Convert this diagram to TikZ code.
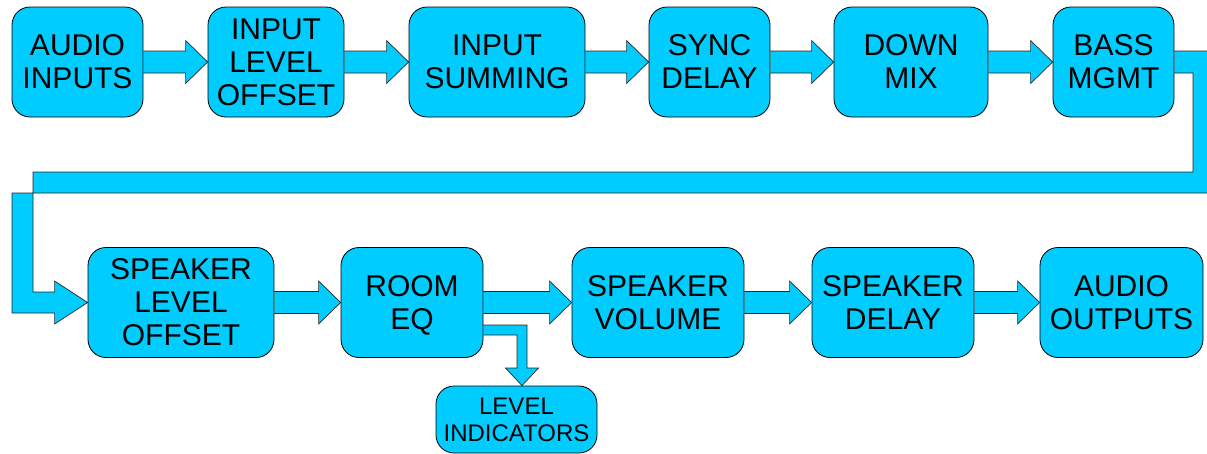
\documentclass[tikz,border=0pt]{standalone}
\usepackage{fontspec}
\setmainfont{Liberation Sans}
\usetikzlibrary{calc,backgrounds}
\definecolor{blockcyan}{HTML}{00CCFF}
% fat block arrow from the east side of #1 to the west side of #2
\newcommand{\fatarrow}[2]{%
  \draw[fat] ($(#1.east)+(0,-11)$) -- ($(#2.west)+(-22,-11)$) -- ($(#2.west)+(-22,-21.5)$)
    -- (#2.west) -- ($(#2.west)+(-22,21.5)$) -- ($(#2.west)+(-22,11)$) -- ($(#1.east)+(0,11)$);}

\begin{document}
\begin{tikzpicture}[x=1pt,y=-1pt,line cap=butt,line join=miter,
    block/.style={draw=black,line width=0.8pt,fill=blockcyan,rounded corners=18pt,
      align=center,inner sep=0pt,text depth=0pt,font={\fontsize{30}{33}\selectfont}},
    fat/.style={draw=black!85,line width=0.7pt,fill=blockcyan}]
  \useasboundingbox (0,0) rectangle (1207,453);
  % top row
  \node[block,minimum width=131pt,minimum height=110pt] (audioin) at (77.5,62) {AUDIO\\INPUTS};
  \node[block,minimum width=136pt,minimum height=110pt] (inlevel) at (276,62) {INPUT\\LEVEL\\OFFSET};
  \node[block,minimum width=176pt,minimum height=110pt] (insum) at (497,62) {INPUT\\SUMMING};
  \node[block,minimum width=121pt,minimum height=110pt] (sync) at (709.5,62) {SYNC\\DELAY};
  \node[block,minimum width=154pt,minimum height=110pt] (downmix) at (911,62) {DOWN\\MIX};
  \node[block,minimum width=121pt,minimum height=110pt] (bass) at (1113.5,62) {BASS\\MGMT};
  % bottom row
  \node[block,minimum width=186pt,minimum height=110pt] (spklevel) at (181,302.5) {SPEAKER\\LEVEL\\OFFSET};
  \node[block,minimum width=142pt,minimum height=110pt] (roomeq) at (412,302.5) {ROOM\\EQ};
  \node[block,minimum width=172pt,minimum height=110pt] (spkvol) at (658,302.5) {SPEAKER\\VOLUME};
  \node[block,minimum width=162pt,minimum height=110pt] (spkdelay) at (893,302.5) {SPEAKER\\DELAY};
  \node[block,minimum width=163pt,minimum height=110pt] (audioout) at (1121.5,302.5) {AUDIO\\OUTPUTS};
  \node[block,minimum width=161pt,minimum height=67pt,font={\fontsize{24}{27}\selectfont}] (levelind) at (516.5,419.5) {LEVEL\\INDICATORS};

  \begin{scope}[on background layer]
    \fatarrow{audioin}{inlevel}
    \fatarrow{inlevel}{insum}
    \fatarrow{insum}{sync}
    \fatarrow{sync}{downmix}
    \fatarrow{downmix}{bass}
    \fatarrow{spklevel}{roomeq}
    \fatarrow{roomeq}{spkvol}
    \fatarrow{spkvol}{spkdelay}
    \fatarrow{spkdelay}{audioout}
    % wrap from the top row down to the bottom row
    \draw[fat] ($(bass.east)+(0,-11)$) -- (1215,51) -- (1215,193) -- (12,193) -- (12,313)
      -- ($(spklevel.west)+(-33,10.5)$) -- ($(spklevel.west)+(-33,21.5)$) -- (spklevel.west)
      -- ($(spklevel.west)+(-33,-21.5)$) -- ($(spklevel.west)+(-33,-10.5)$)
      -- (33,292) -- (33,172) -- (1193,172) -- (1193,73) -- ($(bass.east)+(0,11)$);
    % branch to the level indicators
    \draw[fat] ($(roomeq.east)+(0,22.5)$) -- (527,325) -- (527,368) -- (538.5,368)
      -- ($(levelind.north)+(5.5,0)$) -- (505.5,368) -- (517,368) -- (517,335)
      -- ($(roomeq.east)+(0,32.5)$);
  \end{scope}
\end{tikzpicture}
\end{document}
